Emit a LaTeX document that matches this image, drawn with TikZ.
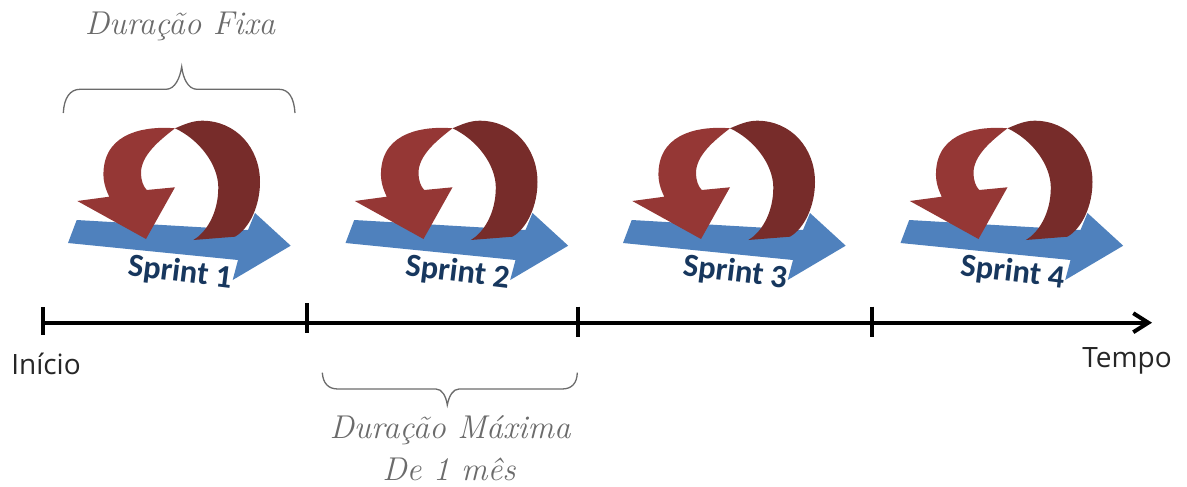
\documentclass[tikz,border=0pt]{standalone}
\usepackage{fontspec}
\newfontfamily\sprintfont{Carlito}[Scale=1.0]
\newfontfamily\plainfont{Open Sans}
\usetikzlibrary{arrows.meta}
\definecolor{loopred}{HTML}{953735}
\definecolor{loopdark}{HTML}{772C2A}
\definecolor{flowblue}{HTML}{4F81BD}
\definecolor{navy}{HTML}{17375E}
\tikzset{
  hand/.style={text=black!58,font=\fontsize{33}{38}\selectfont\itshape,align=center,inner sep=0pt},
  plainlabel/.style={text=black!85,font=\plainfont\fontsize{28}{32}\selectfont,inner sep=0pt},
  sprintlabel/.style={text=navy,font=\sprintfont\bfseries\fontsize{32.5}{38}\selectfont,rotate=-7,inner sep=0pt},
  bracepath/.style={draw=black!58,line width=1.3pt},
  axisline/.style={draw=black,line width=4pt},
  tickline/.style={draw=black,line width=4.5pt},
  pics/sprintloop/.style={code={
    \fill[flowblue] (76.7,220) -- (248,230) -- (255,213) -- (290.7,245.7) -- (232.7,280) -- (238,260) -- (68,243) -- cycle;
    \fill[loopdark] (175,128.3) .. controls (183,125) and (192,120.7) .. (202,120.7)
      .. controls (236,120.7) and (260,148) .. (260,182)
      .. controls (260,205) and (250,228) .. (235,236.7)
      -- (193.3,240)
      .. controls (207,232) and (218.5,212) .. (218.3,187)
      .. controls (218,165) and (200,140) .. (175,128.3) -- cycle;
    \fill[loopred] (175,128.3) .. controls (148,126) and (105,131) .. (103.5,172)
      .. controls (103,182) and (106,190) .. (109.3,196.7)
      -- (77.3,201) -- (146,239) -- (175,187.3) -- (146.7,190)
      .. controls (143,186) and (141,180) .. (141,173)
      .. controls (141,155) and (160,140) .. (175,128.3) -- cycle;
  }}
}
\begin{document}
\begin{tikzpicture}[x=1pt,y=-1pt]
\useasboundingbox (0,0) rectangle (1187,487);
% sprints
\foreach \n/\dx in {1/0,2/277.5,3/555,4/832.5}{
  \pic at (\dx,0) {sprintloop};
  \node[sprintlabel] (sprint\n) at ({180+\dx},273) {Sprint \n};
}
% axis
\coordinate (axisstart) at (43,322.7);
\coordinate (axisend) at (1152,322.7);
\draw[axisline,-{Straight Barb[length=15pt,width=19pt,line width=4pt]}] (axisstart) -- (axisend);
\coordinate (t1a) at (43,307); \coordinate (t1b) at (43,335);
\coordinate (t2a) at (307,303); \coordinate (t2b) at (307,333);
\coordinate (t3a) at (578,306.5); \coordinate (t3b) at (578,337);
\coordinate (t4a) at (872,306.5); \coordinate (t4b) at (872,337);
\draw[tickline] (t1a) -- (t1b);
\draw[tickline] (t2a) -- (t2b);
\draw[tickline] (t3a) -- (t3b);
\draw[tickline] (t4a) -- (t4b);
\node[plainlabel] (inicio) at (46,364) {Início};
\node[plainlabel] (tempo) at (1127,361) {Tempo};
% braces
\draw[bracepath] (63.3,113) .. controls (64,98) and (70,89.3) .. (80,89.3)
  -- (166,89.3) .. controls (175,89.3) and (180,78) .. (181.7,66.7)
  .. controls (183,78) and (188,89.3) .. (197,89.3)
  -- (279,89.3) .. controls (289,89.3) and (294,98) .. (295,113);
\draw[bracepath] (322.3,372.7) .. controls (323,383) and (328,389) .. (338,389)
  -- (436,389) .. controls (442,389) and (446,396) .. (447.3,405)
  .. controls (449,396) and (453,389) .. (459,389)
  -- (562,389) .. controls (572,389) and (577,383) .. (577.3,372.7);
% hand labels
\node[hand] (fixa) at (180,26) {Duração Fixa};
\node[hand] (maxima) at (450,430) {Duração Máxima};
\node[hand] (mes) at (449,469) {De 1 mês};
\end{tikzpicture}
\end{document}
